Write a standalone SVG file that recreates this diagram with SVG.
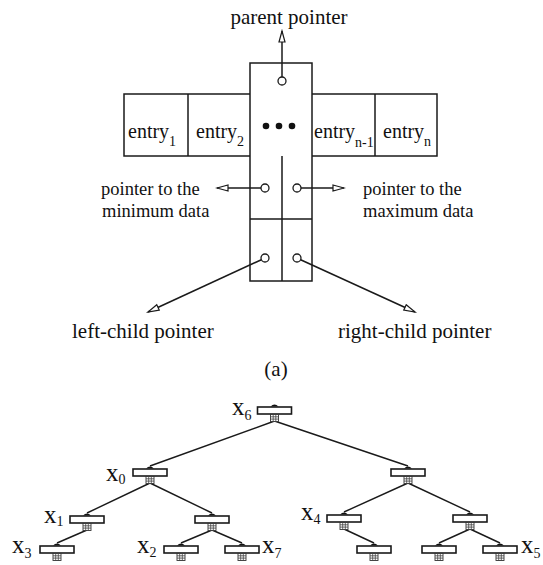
<svg xmlns="http://www.w3.org/2000/svg" width="543" height="565" viewBox="0 0 543 565">
  <style>
    .ln { stroke: #1a1a1a; stroke-width: 1.5; fill: none; }
    .box { stroke: #1a1a1a; stroke-width: 1.5; fill: #fff; }
    .pt { stroke: #1a1a1a; stroke-width: 1.3; fill: #fff; }
    .lbl { font-family: "Liberation Serif", "Times New Roman", serif; fill: #111; }
    .big { font-size: 21px; }
    .mid { font-size: 18.5px; }
    .ent { font-size: 20px; }
    .sub { font-size: 14px; }
    .tx { font-size: 25px; }
    .ts { font-size: 14px; }
    .nrect { stroke: #1a1a1a; stroke-width: 1.6; fill: #fff; }
    .edge { stroke: #1a1a1a; stroke-width: 1.4; fill: none; }
  </style>
  <defs>
    <marker id="arr" markerUnits="userSpaceOnUse" markerWidth="14" markerHeight="10" refX="12" refY="4" orient="auto">
      <path d="M1,1 L12,4 L1,7 z" fill="#fff" stroke="#1a1a1a" stroke-width="1.2"/>
    </marker>
    <!-- tree node glyph: bar with a knob on top and a hatched stub below -->
    <g id="tnode">
      <path d="M-4,-0.5 Q0,-4.5 4,-0.5 z" fill="#111"/>
      <rect class="nrect" x="-17" y="0" width="34" height="7"/>
      <rect x="-4" y="7.5" width="8" height="7" fill="#fff" stroke="#333" stroke-width="0.9"/>
      <path d="M-4,9.8 H4 M-4,12.1 H4 M-1.3,7.5 V14.5 M1.3,7.5 V14.5" stroke="#444" stroke-width="0.8"/>
    </g>
  </defs>

  <rect width="543" height="565" fill="#fff"/>

  <!-- (a) node layout -->
  <g id="node-record">
    <rect class="box" x="124" y="94" width="313" height="62"/>
    <path class="ln" d="M188,94 V156 M375,94 V156"/>
    <rect class="box" x="250" y="63" width="62" height="218" fill="none"/>
    <path class="ln" d="M250,219 H312 M282,156 V281"/>
    <circle cx="266" cy="126" r="3.3" fill="#111"/>
    <circle cx="279" cy="126" r="3.3" fill="#111"/>
    <circle cx="292" cy="126" r="3.3" fill="#111"/>
    <text class="lbl ent" x="128" y="138">entry<tspan class="sub" dy="8">1</tspan></text>
    <text class="lbl ent" x="196" y="138">entry<tspan class="sub" dy="8">2</tspan></text>
    <text class="lbl ent" x="314" y="138">entry<tspan class="sub" dy="9">n-1</tspan></text>
    <text class="lbl ent" x="383" y="138">entry<tspan class="sub" dy="8">n</tspan></text>
  </g>

  <g id="connectors-a">
    <line class="ln" x1="282" y1="77" x2="282" y2="31" marker-end="url(#arr)"/>
    <line class="ln" x1="261" y1="188" x2="217" y2="188" marker-end="url(#arr)"/>
    <line class="ln" x1="301" y1="188" x2="344" y2="188" marker-end="url(#arr)"/>
    <line class="ln" x1="261.4" y1="259.7" x2="148" y2="312" marker-end="url(#arr)"/>
    <line class="ln" x1="300.6" y1="259.7" x2="415" y2="312" marker-end="url(#arr)"/>
  </g>

  <g id="pointer-slots">
    <circle class="pt" cx="282" cy="81" r="4"/>
    <circle class="pt" cx="265" cy="188" r="4"/>
    <circle class="pt" cx="297" cy="188" r="4"/>
    <circle class="pt" cx="265" cy="258" r="4"/>
    <circle class="pt" cx="297" cy="258" r="4"/>
  </g>

  <g id="labels-a">
    <text class="lbl big" x="289" y="24" text-anchor="middle">parent pointer</text>
    <text class="lbl mid" x="101" y="195">pointer to the</text>
    <text class="lbl mid" x="102" y="217">minimum data</text>
    <text class="lbl mid" x="363" y="195">pointer to the</text>
    <text class="lbl mid" x="363" y="217">maximum data</text>
    <text class="lbl big" x="72" y="338">left-child pointer</text>
    <text class="lbl big" x="338" y="338">right-child pointer</text>
    <text class="lbl big" x="276" y="376" text-anchor="middle">(a)</text>
  </g>

  <!-- (b) tree -->
  <g id="connectors-b">
    <path class="edge" d="M274.5,421 L150,466 M274.5,421 L408,466"/>
    <path class="edge" d="M150,483 L87,513 M150,483 L212,513"/>
    <path class="edge" d="M408,483 L344,512 M408,483 L470,512"/>
    <path class="edge" d="M87,530 L57,543"/>
    <path class="edge" d="M212,530 L181,543 M212,530 L242,543"/>
    <path class="edge" d="M344,529 L374,543"/>
    <path class="edge" d="M470,529 L439,543 M470,529 L500,543"/>
  </g>

  <g id="n-x6"><use href="#tnode" x="274.5" y="407"/><text class="lbl tx" x="232" y="415">x<tspan class="ts" dy="5">6</tspan></text></g>
  <g id="n-x0"><use href="#tnode" x="150" y="469"/><text class="lbl tx" x="106" y="481">x<tspan class="ts" dy="3">0</tspan></text></g>
  <g id="n-r1"><use href="#tnode" x="408" y="469"/></g>
  <g id="n-x1"><use href="#tnode" x="87" y="516"/><text class="lbl tx" x="44" y="523">x<tspan class="ts" dy="3">1</tspan></text></g>
  <g id="n-x0r"><use href="#tnode" x="212" y="516"/></g>
  <g id="n-x4"><use href="#tnode" x="344" y="515"/><text class="lbl tx" x="301" y="520">x<tspan class="ts" dy="4">4</tspan></text></g>
  <g id="n-r1r"><use href="#tnode" x="470" y="515"/></g>
  <g id="n-x3"><use href="#tnode" x="57" y="546"/><text class="lbl tx" x="12" y="553">x<tspan class="ts" dy="5">3</tspan></text></g>
  <g id="n-x2"><use href="#tnode" x="181" y="546"/><text class="lbl tx" x="137" y="553">x<tspan class="ts" dy="4">2</tspan></text></g>
  <g id="n-x7"><use href="#tnode" x="242" y="546"/><text class="lbl tx" x="262" y="553">x<tspan class="ts" dy="5">7</tspan></text></g>
  <g id="n-x4r"><use href="#tnode" x="374" y="546"/></g>
  <g id="n-r1rl"><use href="#tnode" x="439" y="546"/></g>
  <g id="n-x5"><use href="#tnode" x="500" y="546"/><text class="lbl tx" x="521" y="553">x<tspan class="ts" dy="5">5</tspan></text></g>
</svg>
